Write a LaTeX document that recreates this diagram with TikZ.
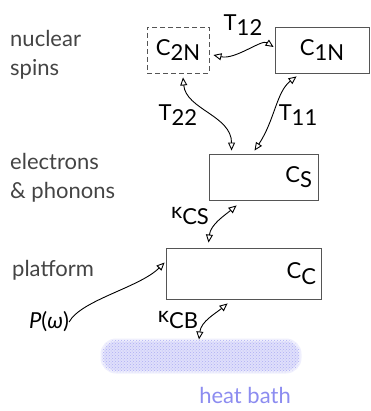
\documentclass[tikz,border=0pt]{standalone}
\usepackage{fontspec}
\setmainfont{Lato}
\usetikzlibrary{arrows.meta, patterns}
\definecolor{txtgray}{HTML}{444444}
\definecolor{boxgray}{HTML}{555555}
\definecolor{bathblue}{HTML}{8C8CF0}
\newcommand{\lsub}[2]{#1\raisebox{-0.5ex}{#2}}

\begin{document}
\begin{tikzpicture}[
  x=1pt, y=-1pt,
  font=\fontsize{22}{29}\selectfont,
  cbox/.style={rectangle, draw=boxgray, line width=0.9pt, inner sep=0pt},
  dbox/.style={cbox, dash pattern=on 5pt off 3pt},
  side/.style={align=left, anchor=west, text=txtgray, inner sep=0pt},
  dar/.style={{Triangle[open, length=8pt, width=7pt]}-{Triangle[open, length=8pt, width=7pt]}, line width=0.9pt},
  sar/.style={-{Triangle[open, length=8pt, width=7pt]}, line width=0.9pt},
  lbl/.style={inner sep=0pt},
  bath/.style={rectangle, rounded corners=14pt, minimum width=198pt,
               minimum height=32pt, fill=bathblue!28, draw=bathblue!14,
               line width=3pt, postaction={pattern=crosshatch dots, pattern color=bathblue!70}}
]
\useasboundingbox (0,0) rectangle (370,411);

% left column
\node (nuc) [side] at (10,55) {nuclear\\spins};
\node (elec) [side] at (10,178) {electrons\\\& phonons};
\node (plat) [side] at (12,270) {platform};

% boxes
\node (c2n) [dbox, minimum width=62pt, minimum height=46pt] at (178,50) {\lsub{C}{2N}};
\node (c1n) [cbox, minimum width=94pt, minimum height=46pt] at (322,50) {\lsub{C}{1N}};
\node (cs) [cbox, minimum width=109pt, minimum height=46pt, text width=97pt,
  align=right] at (263.5,177) {\lsub{C}{S}};
\node (cc) [cbox, minimum width=155pt, minimum height=51pt, text width=145pt,
  align=right] at (243.5,273.5) {\lsub{C}{C}};
\node (bath) [bath] at (201,356) {};
\node (bathtxt) [text=bathblue] at (245,395) {heat bath};

% labels
\node (t12) [lbl] at (243,25) {\lsub{T}{12}};
\node (t22) [lbl] at (178,115) {\lsub{T}{22}};
\node (t11) [lbl] at (298,115) {\lsub{T}{11}};
\node (kcs) [lbl] at (190,216) {\lsub{κ}{CS}};
\node (kcb) [lbl] at (178,320) {\lsub{κ}{CB}};
\node (pw) [lbl] at (49,322) {\textit{P}(\textit{ω})};

% couplings
\draw[dar] ([shift={(4,5)}]c2n.east) .. controls +(22,5) and +(-12,-8) .. ([shift={(-1,-3)}]c1n.west);
\draw[dar] ([shift={(5,4)}]c2n.south) .. controls +(3,32) and +(0,-35) .. ([shift={(23,-3)}]cs.north west);
\draw[dar] ([shift={(22,3)}]c1n.south west) .. controls +(-20,15) and +(20,-30) .. ([shift={(46,-3)}]cs.north west);
\draw[dar] ([shift={(28,5)}]cs.south west) .. controls +(-12,10) and +(2,-18) .. ([shift={(43,-5)}]cc.north west);
\draw[dar] ([shift={(62,4)}]cc.south west) .. controls +(-12,10) and +(2,-18) .. ([shift={(-2,1)}]bath.north);
\draw[sar] (pw.east) .. controls +(12,-22) and +(-25,25) .. ([shift={(-1,-11)}]cc.west);
\end{tikzpicture}
\end{document}
